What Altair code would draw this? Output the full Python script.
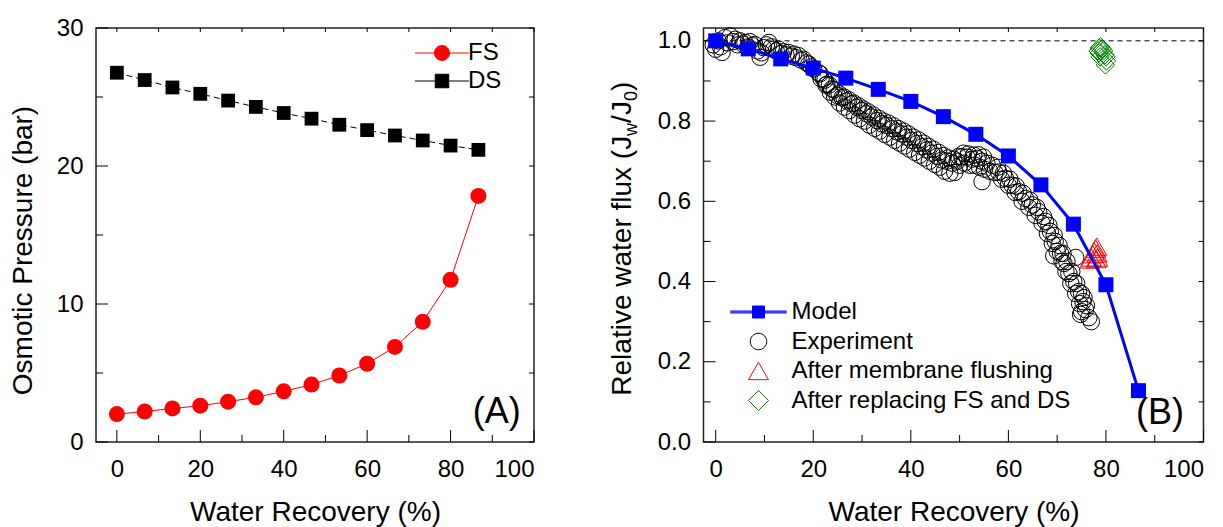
import altair as alt
import pandas as pd

FONT = "Liberation Sans"

# ---------------- data ----------------
recovery = [0, 6.67, 13.33, 20, 26.67, 33.33, 40, 46.67, 53.33, 60, 66.67, 73.33, 80, 86.67]
fs_pressure = [2.02, 2.21, 2.43, 2.63, 2.92, 3.24, 3.67, 4.16, 4.82, 5.67, 6.89, 8.71, 11.75, 17.83]
ds_pressure = [26.76, 26.23, 25.69, 25.23, 24.74, 24.28, 23.84, 23.43, 22.99, 22.60, 22.21, 21.85, 21.48, 21.17]

model_flux = [1.0, 0.98, 0.955, 0.932, 0.907, 0.879, 0.849, 0.811, 0.767, 0.713, 0.641, 0.543, 0.392, 0.128]

exp_x_head = [-0.5, 0.0, 0.5, 1.0, 1.3, 1.9, 2.4, 3.0, 3.5, 4.0,
              4.5, 5.0, 5.6, 6.0, 6.6, 7.0, 7.5, 8.0, 8.6, 9.1,
              9.4, 9.8, 10.4, 10.9, 11.4, 11.9, 12.4, 12.9, 13.4, 13.9,
              14.4, 14.9, 15.5, 16.0, 16.5, 17.0, 17.5, 18.0, 18.6, 19.1,
              19.6, 20.1]
exp_y_head = [0.99, 0.979, 1.0, 0.985, 0.971, 1.008, 0.995, 1.012, 0.998, 1.004,
              0.99, 1.0, 0.992, 0.996, 0.985, 0.998, 0.988, 0.991, 0.975, 0.959,
              0.97, 0.983, 0.99, 0.996, 0.985, 0.979, 0.975, 0.979, 0.968, 0.973,
              0.965, 0.971, 0.962, 0.967, 0.958, 0.963, 0.952, 0.954, 0.945, 0.942,
              0.935, 0.93]
exp_x_mid_a = [21.1, 22.1, 22.8, 23.8, 24.9, 25.9, 26.9, 27.9, 29.0, 30.0,
               31.0, 32.0, 33.1, 34.1, 35.1, 36.2, 37.2, 38.2, 39.2, 40.2,
               41.3, 42.3, 43.3, 44.3, 45.4, 46.4, 47.4, 48.5, 49.5, 50.5,
               51.5, 52.6, 53.6, 54.6, 55.6]
exp_y_mid_a = [0.92, 0.905, 0.892, 0.88, 0.864, 0.858, 0.85, 0.843, 0.834, 0.826,
               0.818, 0.81, 0.801, 0.793, 0.789, 0.781, 0.773, 0.768, 0.76, 0.752,
               0.744, 0.736, 0.728, 0.72, 0.712, 0.703, 0.70, 0.695, 0.70, 0.711,
               0.71, 0.705, 0.707, 0.70, 0.695]
exp_x_mid_b = [21.6, 22.6, 23.5, 24.4, 25.4, 26.4, 27.4, 28.5, 29.5, 30.5,
               31.5, 32.6, 33.6, 34.6, 35.7, 36.7, 37.7, 38.7, 39.7, 40.8,
               41.8, 42.8, 43.8, 44.9, 45.9, 46.9, 48.0, 49.0, 50.0, 51.0,
               52.1, 53.1, 54.1, 55.1, 56.2]
exp_y_mid_b = [0.905, 0.89, 0.872, 0.86, 0.845, 0.835, 0.826, 0.815, 0.806, 0.80,
               0.79, 0.782, 0.775, 0.767, 0.76, 0.752, 0.745, 0.738, 0.73, 0.722,
               0.715, 0.708, 0.70, 0.692, 0.685, 0.675, 0.67, 0.672, 0.69, 0.695,
               0.69, 0.69, 0.685, 0.68, 0.675]
exp_x_mid_c = [21.4, 22.4, 23.3, 24.3, 25.3, 26.3, 27.3, 28.3, 29.3, 30.3,
               31.3, 32.3, 33.4, 34.4, 35.4, 36.5, 37.5, 38.5, 39.5, 40.5,
               41.6, 42.6, 43.6, 44.6, 45.7, 46.7, 47.7, 48.8, 49.8, 50.8,
               51.8, 52.9, 53.9, 54.9]
exp_y_mid_c = [0.918, 0.902, 0.89, 0.878, 0.868, 0.86, 0.853, 0.845, 0.838, 0.83,
               0.823, 0.815, 0.807, 0.80, 0.795, 0.788, 0.781, 0.775, 0.768, 0.76,
               0.753, 0.745, 0.737, 0.73, 0.722, 0.714, 0.708, 0.705, 0.712, 0.72,
               0.718, 0.715, 0.716, 0.71]
exp_x_tail_a = [56.7, 58.0, 59.4, 60.8, 62.1, 63.5, 64.9, 66.2, 67.6, 68.6,
                69.6, 70.7, 71.4, 72.4, 73.4, 74.4, 75.3, 75.8, 76.5, 77.0]
exp_y_tail_a = [0.69, 0.673, 0.657, 0.64, 0.624, 0.607, 0.591, 0.574, 0.55, 0.525,
                0.50, 0.47, 0.445, 0.42, 0.40, 0.375, 0.35, 0.33, 0.31, 0.30]
exp_x_tail_b = [57.2, 58.6, 60.0, 61.4, 62.8, 64.2, 65.5, 66.9, 68.0, 69.0,
                70.0, 71.0, 71.8, 72.8, 73.8, 74.6, 75.0]
exp_y_tail_b = [0.672, 0.655, 0.64, 0.622, 0.60, 0.585, 0.565, 0.545, 0.52, 0.495,
                0.475, 0.45, 0.425, 0.395, 0.37, 0.345, 0.325]
exp_x_tail_c = [57.8, 59.0, 60.3, 61.6, 63.0, 64.4, 65.8, 67.2, 68.3, 69.4,
                70.4, 71.2, 72.0, 73.0, 74.0, 75.0, 76.0]
exp_y_tail_c = [0.685, 0.67, 0.655, 0.638, 0.62, 0.603, 0.585, 0.562, 0.54, 0.515,
                0.49, 0.47, 0.45, 0.425, 0.395, 0.37, 0.34]
exp_x_out = [54.6, 69.3, 73.8, 74.8, 75.5]
exp_y_out = [0.649, 0.464, 0.46, 0.318, 0.36]

flush_x = [76.7, 77.0, 77.3, 77.6, 77.9, 78.1, 78.2, 78.3, 78.0]
flush_y = [0.455, 0.46, 0.468, 0.475, 0.482, 0.487, 0.47, 0.46, 0.456]

replace_x = [78.4, 78.6, 78.9, 79.2, 79.5, 79.8, 80.0, 80.1, 79.9, 78.6, 78.8]
replace_y = [0.975, 0.982, 0.985, 0.98, 0.975, 0.965, 0.96, 0.95, 0.94, 0.97, 0.96]

x_major = [0, 20, 40, 60, 80, 100]
x_minor = [10, 30, 50, 70, 90]
yA_major = [0, 10, 20, 30]
yA_minor = [5, 15, 25]
yB_major = [0, 0.2, 0.4, 0.6, 0.8, 1.0]
yB_minor = [0.1, 0.3, 0.5, 0.7, 0.9]

left_series = ["FS", "DS"]
left_colors = ["#ff0000", "#000000"]
right_series = ["Model", "Experiment", "After membrane flushing", "After replacing FS and DS"]
right_colors = ["#0000ff", "#000000", "#ff0000", "#008000"]
right_fills = ["#0000ff", "transparent", "transparent", "transparent"]

# y-axis title of panel B, split so that "w" and "0" can be subscripts
yB_title_parts = ["Relative water flux (J", "w", "/J", "0", ")"]
yB_title_sub = [False, True, False, True, False]

exp_x = (exp_x_head + exp_x_mid_a + exp_x_mid_b + exp_x_mid_c + exp_x_tail_a + exp_x_tail_b
         + exp_x_tail_c + exp_x_out)
exp_y = (exp_y_head + exp_y_mid_a + exp_y_mid_b + exp_y_mid_c + exp_y_tail_a + exp_y_tail_b
         + exp_y_tail_c + exp_y_out)

# ---------------- layout ----------------
W1, W2, H = 438, 500, 414

xA_scale = alt.Scale(domain=[-5, 100], nice=False, zero=False)
xB_scale = alt.Scale(domain=[-2.5, 100], nice=False, zero=False)
yA_scale = alt.Scale(domain=[0, 30], nice=False, zero=False)
yB_scale = alt.Scale(domain=[0, 1.032], nice=False, zero=False)

x_axis = alt.Axis(values=x_major, title="Water Recovery (%)", format="d",
                  labelPadding=15, titlePadding=17)
yA_axis = alt.Axis(values=yA_major, title="Osmotic Pressure (bar)", format="d",
                   labelPadding=13, titlePadding=19, titleY=222)
yB_axis = alt.Axis(values=yB_major, title=None, format=".1f", labelPadding=13)


def XA(f="x"):
    return alt.X(f + ":Q", scale=xA_scale, axis=x_axis)


def YA(f="y"):
    return alt.Y(f + ":Q", scale=yA_scale, axis=yA_axis)


def XB(f="x"):
    return alt.X(f + ":Q", scale=xB_scale, axis=x_axis)


def YB(f="y"):
    return alt.Y(f + ":Q", scale=yB_scale, axis=yB_axis)


def tick_layers(X, Y, ymaj, ymin, W):
    r = dict(color="black", strokeWidth=1)
    dxM = pd.DataFrame({"x": x_major})
    dxm = pd.DataFrame({"x": x_minor})
    dxa = pd.DataFrame({"x": x_major + x_minor})
    dyM = pd.DataFrame({"y": ymaj})
    dym = pd.DataFrame({"y": ymin})
    dya = pd.DataFrame({"y": ymaj + ymin})
    return [
        alt.Chart(dxM).mark_rule(**r).encode(x=X(), y=alt.value(H), y2=alt.value(H - 12)),
        alt.Chart(dxm).mark_rule(**r).encode(x=X(), y=alt.value(H), y2=alt.value(H - 7)),
        alt.Chart(dxa).mark_rule(**r).encode(x=X(), y=alt.value(0), y2=alt.value(4)),
        alt.Chart(dyM).mark_rule(**r).encode(y=Y(), x=alt.value(0), x2=alt.value(12)),
        alt.Chart(dym).mark_rule(**r).encode(y=Y(), x=alt.value(0), x2=alt.value(7)),
        alt.Chart(dya).mark_rule(**r).encode(y=Y(), x=alt.value(W), x2=alt.value(W - 5)),
    ]


# legend symbol paths (unit = 7.5 px, half of sqrt(symbolSize))
P_FS = "M-3.6,0L-1,0M1,0L3.6,0M-1,0A1,1,0,1,1,1,0A1,1,0,1,1,-1,0Z"
P_DS = "M-3.6,0L-0.9,0M0.9,0L3.6,0M-0.9,-0.9L0.9,-0.9L0.9,0.9L-0.9,0.9Z"
P_MODEL = ("M-3.75,-0.13L-0.8,-0.13M-3.75,0L-0.8,0M-3.75,0.13L-0.8,0.13"
           "M0.8,-0.13L3.75,-0.13M0.8,0L3.75,0M0.8,0.13L3.75,0.13"
           "M-0.8,-0.8L0.8,-0.8L0.8,0.8L-0.8,0.8Z")
P_EXP = "M-3.75,0M3.75,0M-1.1,0A1.1,1.1,0,1,1,1.1,0A1.1,1.1,0,1,1,-1.1,0Z"
P_TRI = "M-3.75,0M3.75,0M0,-1.155L1.33,1.155L-1.33,1.155Z"
P_DIA = "M-3.75,0M3.75,0M0,-1.33L1.33,0L0,1.33L-1.33,0Z"

lkw = dict(title=None, orient="none", labelFont=FONT, labelFontSize=24, labelColor="black",
           symbolSize=225, symbolStrokeWidth=1, labelLimit=500)
legA = alt.Legend(legendX=334, legendY=13, labelOffset=14, rowPadding=4, **lkw)
legB = alt.Legend(legendX=43, legendY=272, labelOffset=21, rowPadding=5.5, **lkw)

# ---- panel A ----
dfs = pd.DataFrame({"x": recovery, "y": fs_pressure})
dds = pd.DataFrame({"x": recovery, "y": ds_pressure})
dlegA = pd.DataFrame({"grp": left_series})

fs_line = alt.Chart(dfs).mark_line(color="#ff0000", strokeWidth=1).encode(x=XA(), y=YA())
ds_line = alt.Chart(dds).mark_line(color="#000000", strokeWidth=1, strokeDash=[6, 4]).encode(x=XA(), y=YA())
fs_pts = alt.Chart(dfs).mark_point(filled=True, opacity=1, shape="circle", size=256,
                                   color="#ff0000").encode(x=XA(), y=YA())
ds_pts = alt.Chart(dds).mark_point(filled=True, opacity=1, shape="square", size=190,
                                   color="#000000").encode(x=XA(), y=YA())
legA_layer = alt.Chart(dlegA).transform_filter("false").mark_point(opacity=1).encode(
    fill=alt.Fill("grp:N", scale=alt.Scale(domain=left_series, range=left_colors), legend=legA),
    stroke=alt.Stroke("grp:N", scale=alt.Scale(domain=left_series, range=left_colors), legend=legA),
    shape=alt.Shape("grp:N", scale=alt.Scale(domain=left_series, range=[P_FS, P_DS]), legend=legA),
)
labA = alt.Chart(pd.DataFrame({"t": ["(A)"]})).mark_text(
    align="right", baseline="alphabetic", font=FONT, fontSize=36, color="black"
).encode(x=alt.X(datum=96.8, scale=xA_scale, axis=x_axis),
         y=alt.Y(datum=1.4, scale=yA_scale, axis=yA_axis), text="t:N")

left = alt.layer(*tick_layers(XA, YA, yA_major, yA_minor, W1), fs_line, ds_line, fs_pts, ds_pts,
                 legA_layer, labA).properties(width=W1, height=H)

# ---- panel B ----
dref = pd.DataFrame({"y": [1.0]})
ref = alt.Chart(dref).mark_rule(color="black", strokeWidth=1, strokeDash=[5, 4]).encode(y=YB())
dexp = pd.DataFrame({"x": exp_x, "y": exp_y})
expPts = alt.Chart(dexp).mark_point(filled=False, opacity=1, size=270, strokeWidth=1,
                                    shape="circle", color="#000000").encode(x=XB(), y=YB())
dfl = pd.DataFrame({"x": flush_x, "y": flush_y})
flPts = alt.Chart(dfl).mark_point(filled=False, opacity=1, size=400, strokeWidth=1,
                                  shape="triangle-up", color="#ff0000").encode(x=XB(), y=YB())
drp = pd.DataFrame({"x": replace_x, "y": replace_y})
rpPts = alt.Chart(drp).mark_point(filled=False, opacity=1, size=340, strokeWidth=1,
                                  shape="diamond", color="#008000").encode(x=XB(), y=YB())
dmod = pd.DataFrame({"x": recovery, "y": model_flux})
modLine = alt.Chart(dmod).mark_line(color="#0000ff", strokeWidth=3).encode(x=XB(), y=YB())
modPts = alt.Chart(dmod).mark_point(filled=True, opacity=1, size=225, shape="square",
                                    color="#0000ff").encode(x=XB(), y=YB())
dlegB = pd.DataFrame({"series": right_series})
legB_layer = alt.Chart(dlegB).transform_filter("false").mark_point(opacity=1).encode(
    fill=alt.Fill("series:N", scale=alt.Scale(domain=right_series, range=right_fills), legend=legB),
    stroke=alt.Stroke("series:N", scale=alt.Scale(domain=right_series, range=right_colors), legend=legB),
    shape=alt.Shape("series:N", scale=alt.Scale(domain=right_series,
                                                range=[P_MODEL, P_EXP, P_TRI, P_DIA]), legend=legB),
)
labB = alt.Chart(pd.DataFrame({"t": ["(B)"]})).mark_text(
    align="right", baseline="alphabetic", font=FONT, fontSize=36, color="black"
).encode(x=alt.X(datum=96.0, scale=xB_scale, axis=x_axis),
         y=alt.Y(datum=0.044, scale=yB_scale, axis=yB_axis), text="t:N")

# rotated axis title for panel B built from text pieces (Arial/Liberation advance widths)
title_layers = []
base_x = -72.7
pos_y = 367.7
piece_widths = [259.8, 13.0, 21.8, 10.0, 9.3]
for part, sub, wpx in zip(yB_title_parts, yB_title_sub, piece_widths):
    title_layers.append(
        alt.Chart(pd.DataFrame({"t": [part]})).mark_text(
            angle=270, align="left", baseline="alphabetic", font=FONT,
            fontSize=(18 if sub else 28), color="black"
        ).encode(x=alt.value(base_x + (6 if sub else 0)), y=alt.value(pos_y), text="t:N")
    )
    pos_y -= wpx

right = alt.layer(*tick_layers(XB, YB, yB_major, yB_minor, W2), ref, expPts, flPts, rpPts,
                  modLine, modPts, legB_layer, labB, *title_layers).properties(width=W2, height=H)

chart = alt.hconcat(left, right, spacing=71.5).resolve_scale(
    fill="independent", stroke="independent", shape="independent"
).resolve_legend(
    fill="independent", stroke="independent", shape="independent"
).properties(
    padding={"left": 0, "top": 7, "right": 0, "bottom": 0}
).configure_view(
    stroke="#222222", strokeWidth=1.5
).configure_axis(
    labelFont=FONT, titleFont=FONT, labelFontSize=24, titleFontSize=28,
    titleFontWeight="normal", labelColor="black", titleColor="black",
    ticks=False, domain=False, grid=False
).configure_legend(
    labelFont=FONT, labelFontSize=24
)

chart.save("out.html", embed_options={"renderer": "svg", "actions": False})
